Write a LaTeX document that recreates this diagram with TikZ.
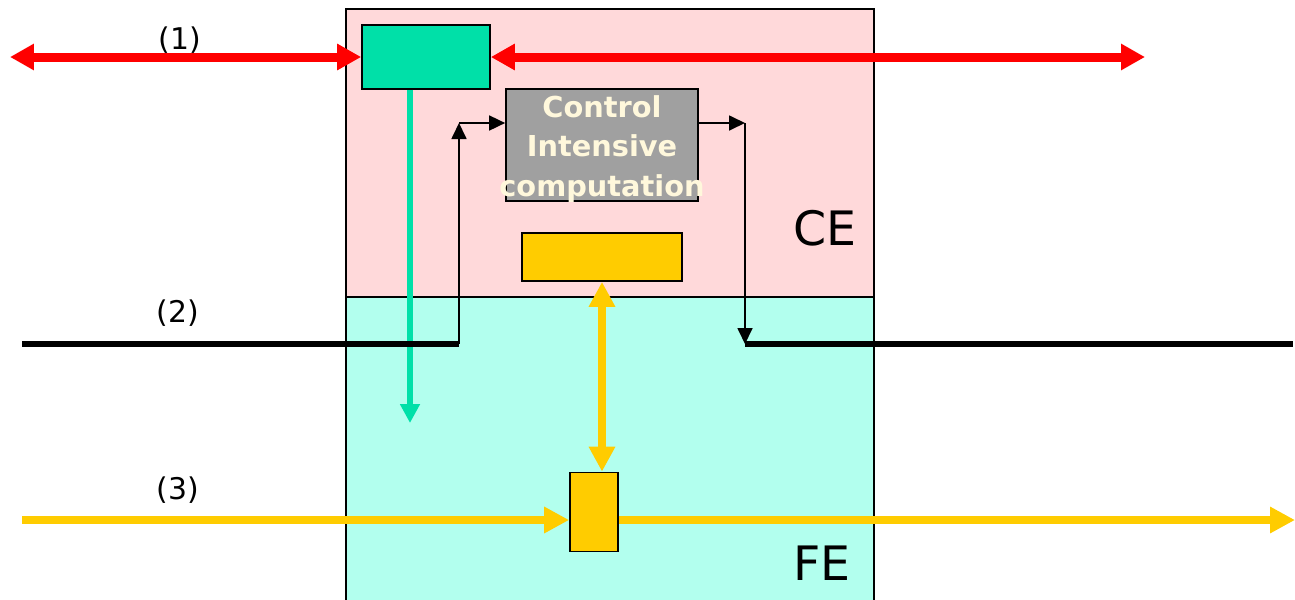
\documentclass[tikz,border=0pt]{standalone}
\usepackage{fontspec}
\setmainfont{DejaVu Sans}
\usetikzlibrary{arrows.meta, positioning}
\definecolor{cepink}{RGB}{255,217,218}
\definecolor{fecyan}{RGB}{178,255,238}
\definecolor{ctlgreen}{RGB}{0,224,168}
\definecolor{fwdyellow}{RGB}{255,204,0}
\definecolor{boxgray}{RGB}{160,160,160}
\definecolor{cream}{RGB}{255,248,220}

\tikzset{
  blockbox/.style={draw=black, line width=0.035cm, inner sep=0pt},
  redarr/.style={red, line width=0.18cm, {Triangle[length=0.48cm,width=0.5cm]}-{Triangle[length=0.48cm,width=0.5cm]}},
  yelarr/.style={fwdyellow, line width=0.16cm, -{Triangle[length=0.5cm,width=0.5cm]}},
  grnarr/.style={ctlgreen, line width=0.11cm, -{Triangle[length=0.38cm,width=0.38cm]}},
  ctlarr/.style={black, line width=0.035cm, -{Triangle[length=0.32cm,width=0.3cm]}},
  sigline/.style={black, line width=0.13cm},
  pathlabel/.style={font=\fontsize{17}{20}\selectfont},
  partlabel/.style={font=\fontsize{27}{30}\selectfont}
}

\begin{document}
\begin{tikzpicture}[x=0.02cm, y=-0.02cm]
\useasboundingbox (0,0) rectangle (1295,599);
% CE and FE parts
\node[blockbox, fill=cepink, minimum width=10.56cm, minimum height=5.76cm] (ce) at (610,153) {};
\node[blockbox, fill=fecyan, minimum width=10.56cm, minimum height=6.2cm] (fe) at (610,452) {};
\node[partlabel] (celbl) at (825,228) {CE};
\node[partlabel] (felbl) at (822,563) {FE};

% boxes
\node[blockbox, fill=ctlgreen, minimum width=2.56cm, minimum height=1.28cm] (ctl) at (426,57) {};
\node[blockbox, fill=boxgray, minimum width=3.84cm, minimum height=2.24cm] (comp) at (602,145) {};
\node[align=center, text=cream, font=\bfseries\fontsize{16.4}{22.5}\selectfont] (comptxt) at (602,149) {Control\\Intensive\\computation};
\node[blockbox, fill=fwdyellow, minimum width=3.2cm, minimum height=0.96cm] (fwdtop) at (602,257) {};
\node[blockbox, fill=fwdyellow, minimum width=0.96cm, minimum height=1.58cm] (fwd) at (594,512) {};

% free ends
\coordinate (p1l) at (10,57);
\coordinate (p1r) at (1145,57);
\coordinate (p2l) at (22,344);
\coordinate (p2a) at (459,344);
\coordinate (p2b) at (745,344);
\coordinate (p2r) at (1293,344);
\coordinate (p3l) at (22,520);
\coordinate (p3r) at (1295,520);
\coordinate (up) at (459,123);
\coordinate (dn) at (745,123);
\coordinate (gend) at (410,423);

% path (1)
\draw[redarr] (p1l) -- (ctl.west);
\draw[redarr] (ctl.east) -- (p1r);
\draw[grnarr] (ctl.south -| gend) -- (gend);

% path (2)
\draw[sigline] (p2l) -- (p2a);
\draw[sigline] (p2b) -- (p2r);
\draw[ctlarr] (p2a) -- (up);
\draw[ctlarr] (up) -- (comp.west |- up);
\draw[ctlarr] (comp.east |- dn) -- (dn);
\draw[ctlarr] (dn) -- (p2b);

% path (3)
\draw[yelarr] (p3l) -- (fwd.west |- p3l);
\draw[yelarr] (fwd.east |- p3r) -- (p3r);
\draw[yelarr, {Triangle[length=0.5cm,width=0.5cm]}-{Triangle[length=0.5cm,width=0.5cm]}] (fwdtop.south) -- (fwdtop.south |- fwd.north);

\node[pathlabel] (l1) at (180,40) {(1)};
\node[pathlabel] (l2) at (178,313) {(2)};
\node[pathlabel] (l3) at (178,490) {(3)};
\end{tikzpicture}
\end{document}
